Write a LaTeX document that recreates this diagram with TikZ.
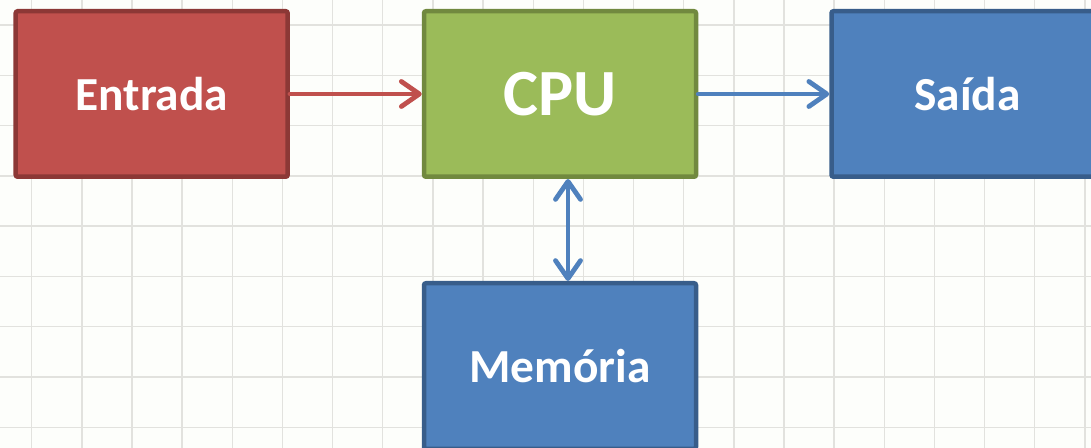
\documentclass[tikz,border=0pt]{standalone}
\usepackage{fontspec}
\setmainfont{Carlito}
\usetikzlibrary{arrows.meta}
\definecolor{vermelho}{HTML}{C0504D}
\definecolor{vermelhoEsc}{HTML}{8C3836}
\definecolor{verde}{HTML}{9BBB59}
\definecolor{verdeEsc}{HTML}{71893F}
\definecolor{azul}{HTML}{4F81BD}
\definecolor{azulEsc}{HTML}{385D8A}
\definecolor{fundo}{HTML}{FDFEFB}
\definecolor{grade}{HTML}{E2E2DE}
\tikzset{
	bloco/.style={draw, line width=2.25pt, rounded corners=1pt, minimum width=136pt, minimum height=82.75pt, inner sep=0pt, text=white, font=\bfseries\fontsize{23.7}{28}\selectfont},
	seta/.style={line width=2.4pt, line cap=round, -{Straight Barb[length=9pt,width=12.5pt,round]}}
}

\begin{document}
\begin{tikzpicture}[x=0.5pt,y=-0.5pt]
\useasboundingbox (0,0) rectangle (1091,448);
\clip (0,0) rectangle (1091,448);
\fill[fundo] (0,0) rectangle (1091,448);
\foreach \i in {0,...,21}
	\draw[grade,line width=0.7pt] ({31.7+50.15*\i},0) -- ({31.7+50.15*\i},448);
\foreach \j in {0,...,8}
	\draw[grade,line width=0.7pt] (0,{25+50.3*\j}) -- (1091,{25+50.3*\j});
\node[bloco,fill=vermelho,draw=vermelhoEsc] (entrada) at (151.7,94) {Entrada};
\node[bloco,fill=verde,draw=verdeEsc,font=\bfseries\fontsize{33}{40}\selectfont] (cpu) at (560,94) {CPU};
\node[bloco,fill=azul,draw=azulEsc] (saida) at (967.5,94) {Saída};
\node[bloco,fill=azul,draw=azulEsc] (memoria) at (560,366) {Memória};
\draw[seta,vermelho] (entrada) -- (cpu);
\draw[seta,azul] (cpu) -- (saida);
\draw[seta,azul,{Straight Barb[length=9pt,width=12.5pt,round]}-{Straight Barb[length=9pt,width=12.5pt,round]}]
	([xshift=4pt]cpu.south) -- ([xshift=4pt]memoria.north);
\end{tikzpicture}
\end{document}
